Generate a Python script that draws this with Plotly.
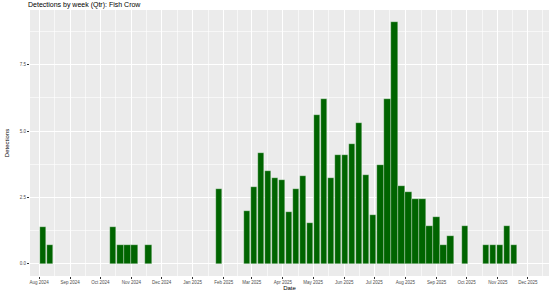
import datetime as dt
import plotly.graph_objects as go

# Data: week start dates and values
week_starts = [
    "2024-08-05", "2024-08-12",
    "2024-10-14", "2024-10-21", "2024-10-28", "2024-11-04", "2024-11-18",
    "2025-01-27",
    "2025-02-24", "2025-03-03", "2025-03-10", "2025-03-17", "2025-03-24", "2025-03-31",
    "2025-04-07", "2025-04-14", "2025-04-21", "2025-04-28",
    "2025-05-05", "2025-05-12", "2025-05-19", "2025-05-26",
    "2025-06-02", "2025-06-09", "2025-06-16", "2025-06-23", "2025-06-30",
    "2025-07-07", "2025-07-14", "2025-07-21", "2025-07-28",
    "2025-08-04", "2025-08-11", "2025-08-18", "2025-08-25",
    "2025-09-01", "2025-09-08", "2025-09-15", "2025-09-29",
    "2025-10-20", "2025-10-27", "2025-11-03", "2025-11-10", "2025-11-17",
]
detections = [
    1.40, 0.72,
    1.40, 0.72, 0.72, 0.72, 0.72,
    2.81,
    2.00, 2.90, 4.19, 3.50, 3.25, 3.15,
    1.97, 2.81, 3.30, 1.54,
    5.59, 6.21, 3.22, 4.10,
    4.10, 4.50, 5.30, 3.34, 1.83,
    3.74, 6.21, 9.10, 2.94,
    2.69, 2.44, 2.44, 1.41,
    1.75, 0.71, 1.05, 1.41,
    0.71, 0.71, 0.71, 1.41, 0.71,
]
month_ticks = [
    "2024-08-01", "2024-09-01", "2024-10-01", "2024-11-01", "2024-12-01",
    "2025-01-01", "2025-02-01", "2025-03-01", "2025-04-01", "2025-05-01",
    "2025-06-01", "2025-07-01", "2025-08-01", "2025-09-01", "2025-10-01",
    "2025-11-01", "2025-12-01",
]
month_labels = [
    "Aug 2024", "Sep 2024", "Oct 2024", "Nov 2024", "Dec 2024",
    "Jan 2025", "Feb 2025", "Mar 2025", "Apr 2025", "May 2025",
    "Jun 2025", "Jul 2025", "Aug 2025", "Sep 2025", "Oct 2025",
    "Nov 2025", "Dec 2025",
]
y_ticks = [0, 2.5, 5.0, 7.5]
y_minor = [1.25, 3.75, 6.25, 8.75]

# minor x gridlines midway between month breaks
mt = [dt.datetime.fromisoformat(d) for d in month_ticks]
x_minor = [(mt[i] + (mt[i + 1] - mt[i]) / 2).isoformat() for i in range(len(mt) - 1)]
x_minor = [(mt[0] - (mt[1] - mt[0]) / 2).isoformat()] + x_minor + [(mt[-1] + dt.timedelta(days=15)).isoformat()]

bar_width_ms = 0.9 * 7 * 24 * 3600 * 1000

fig = go.Figure(
    go.Bar(
        x=week_starts,
        y=detections,
        width=bar_width_ms,
        marker=dict(color="#006400", line=dict(color="rgba(255,255,255,0.6)", width=0.5)),
    )
)

font = "Liberation Sans, Arial, sans-serif"
fig.update_layout(
    width=553,
    height=291,
    margin=dict(l=30, r=4, t=10, b=15),
    paper_bgcolor="white",
    plot_bgcolor="#EBEBEB",
    showlegend=False,
    bargap=0,
    font=dict(family=font, size=5, color="#4D4D4D"),
    title=dict(
        text="Detections by week (Qtr): Fish Crow",
        x=28 / 553, xref="container", xanchor="left",
        y=1 - 5 / 291, yref="container", yanchor="middle",
        font=dict(family=font, size=7, color="black"),
    ),
    xaxis=dict(
        type="date",
        automargin=False,
        range=["2024-07-23", "2025-12-22"],
        tickmode="array",
        tickvals=month_ticks,
        ticktext=month_labels,
        ticks="outside", ticklen=2, tickcolor="#333333", tickwidth=0.5,
        tickfont=dict(size=4.5, color="#4D4D4D"),
        showgrid=True, gridcolor="white", gridwidth=1,
        minor=dict(tickmode="array", tickvals=x_minor, showgrid=True,
                   gridcolor="rgba(255,255,255,0.6)", gridwidth=0.5, ticks=""),
        zeroline=False, showline=False,
        title=dict(text="Date", font=dict(size=6, color="black"), standoff=0),
    ),
    yaxis=dict(
        automargin=False,
        range=[-0.455, 9.555],
        tickmode="array",
        tickvals=y_ticks,
        tickformat=".1f",
        ticks="outside", ticklen=2, tickcolor="#333333", tickwidth=0.5,
        tickfont=dict(size=4.5, color="#4D4D4D"),
        showgrid=True, gridcolor="white", gridwidth=1,
        minor=dict(tickmode="array", tickvals=y_minor, showgrid=True,
                   gridcolor="rgba(255,255,255,0.6)", gridwidth=0.5, ticks=""),
        zeroline=False, showline=False,
        title=dict(text="Detections", font=dict(size=6, color="black"), standoff=9),
    ),
)

fig.write_html("out.html")
